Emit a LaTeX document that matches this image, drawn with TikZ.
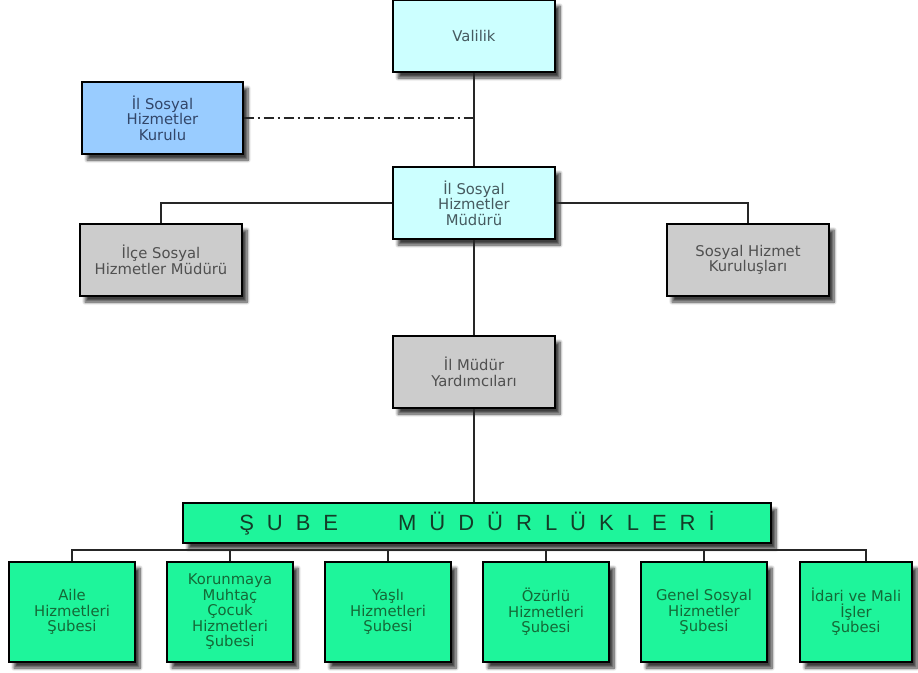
\documentclass[tikz,border=0pt]{standalone}
\usepackage{fontspec}
\setmainfont{DejaVu Sans}
\newfontfamily\barfont{Liberation Sans}
\usetikzlibrary{shadows.blur}

\definecolor{valicyan}{RGB}{204,255,255}
\definecolor{kurulblue}{RGB}{153,204,255}
\definecolor{boxgray}{RGB}{204,204,204}
\definecolor{subegreen}{RGB}{30,245,155}
\definecolor{valitext}{RGB}{70,90,95}
\definecolor{kurultext}{RGB}{50,70,105}
\definecolor{graytext}{RGB}{80,80,80}
\definecolor{greentext}{RGB}{20,105,55}
\definecolor{bartext}{RGB}{20,60,40}

\newcommand\lsp{\hspace{13pt}}

\begin{document}
\begin{tikzpicture}[x=1pt,y=-1pt,
  box/.style={draw=black, line width=1.3pt, align=center, inner sep=2pt,
    font=\fontsize{14.8}{15.5}\selectfont,
    blur shadow={shadow xshift=5pt, shadow yshift=-6pt, shadow blur radius=3pt,
      shadow blur steps=8, shadow opacity=75}},
  topbox/.style={box, fill=valicyan, text=valitext, minimum width=162pt, minimum height=72pt},
  kurulbox/.style={box, fill=kurulblue, text=kurultext, minimum width=161pt, minimum height=72pt},
  graybox/.style={box, fill=boxgray, text=graytext, minimum width=162pt, minimum height=72pt},
  subebox/.style={box, fill=subegreen, text=greentext, minimum width=126pt, minimum height=100pt},
  link/.style={draw=black!85, line width=1.2pt},
  dashdot/.style={dash pattern=on 10pt off 4pt on 2pt off 4pt}]
\useasboundingbox (0,0) rectangle (918,672);

% Top of the chart
\node[topbox] (vali) at (474,36) {Valilik};
\node[kurulbox] (kurul) at (162.5,118) {İl Sosyal\\Hizmetler\\Kurulu};
\node[topbox] (mudur) at (474,203) {İl Sosyal\\Hizmetler\\Müdürü};

% Side units
\node[graybox] (ilce) at (161,260) {İlçe Sosyal\\Hizmetler Müdürü};
\node[graybox] (kurulus) at (748,260) {Sosyal Hizmet\\Kuruluşları};

% Deputies
\node[graybox] (yard) at (474,372) {İl Müdür\\Yardımcıları};

% Branch bar
\node[box, fill=subegreen, text=bartext, minimum width=588pt, minimum height=40pt,
  font=\barfont\fontsize{22}{24}\selectfont] (sube) at (477,523)
  {Ş\lsp U\lsp B\lsp E\hspace{60pt}M\lsp Ü\lsp D\lsp Ü\lsp R\lsp L\lsp Ü\lsp K\lsp L\lsp E\lsp R\lsp İ};

% Branches
\node[subebox] (s1) at (72,612) {Aile\\Hizmetleri\\Şubesi};
\node[subebox] (s2) at (230,612) {Korunmaya\\Muhtaç\\Çocuk\\Hizmetleri\\Şubesi};
\node[subebox] (s3) at (388,612) {Yaşlı\\Hizmetleri\\Şubesi};
\node[subebox] (s4) at (546,612) {Özürlü\\Hizmetleri\\Şubesi};
\node[subebox] (s5) at (704,612) {Genel Sosyal\\Hizmetler\\Şubesi};
\node[subebox, minimum width=112pt] (s6) at (856,612) {İdari ve Mali\\İşler\\Şubesi};

% Connectors
\draw[link] (vali.south) -- (mudur.north);
\draw[link, dashdot] (kurul.east) -- (kurul.east -| vali.south);
\draw[link] (mudur.west) -| (ilce.north);
\draw[link] (mudur.east) -| (kurulus.north);
\draw[link] (mudur.south) -- (yard.north);
\draw[link] (yard.south) -- (yard.south |- sube.north);
\coordinate (bus) at (474,550);
\draw[link] (s1.north) |- (bus) -| ([xshift=10pt]s6.north);
\foreach \n in {2,...,5}
  \draw[link] (s\n.north) -- (s\n.north |- bus);
\end{tikzpicture}
\end{document}
